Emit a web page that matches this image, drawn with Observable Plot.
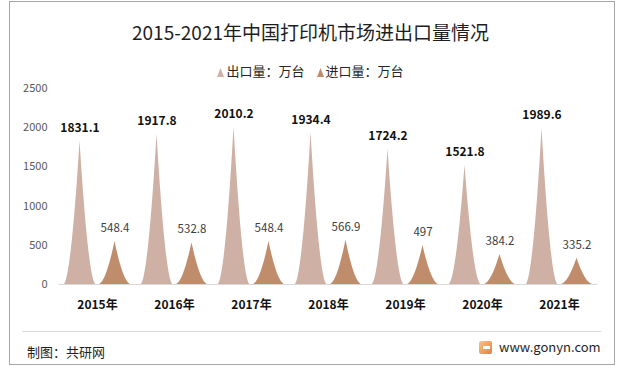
<!DOCTYPE html>
<html>
<head>
<meta charset="utf-8">
<script src="https://cdn.jsdelivr.net/npm/d3@7"></script>
<script src="https://cdn.jsdelivr.net/npm/@observablehq/plot@0.6"></script>
<style>
  html, body { margin: 0; padding: 0; background: #fff; }
  #wrap { position: relative; width: 621px; height: 372px; overflow: hidden; font-family: "Noto Sans CJK SC", "Noto Sans", sans-serif; }
  #frame { position: absolute; left: 9px; top: 1px; width: 606px; height: 364px; border: 1px solid #a6a6a6; box-sizing: border-box; }
  #title { position: absolute; left: 0; width: 621px; top: 18px; text-align: center; font-size: 19px; color: #1e1e1e; line-height: 28px; }
  #legend { position: absolute; left: 0; width: 621px; top: 62px; text-align: center; font-size: 13px; color: #262626; line-height: 18px; }
  #legend span.item { display: inline-block; margin: 0 6px; }
  #legend svg { vertical-align: -1px; margin-right: 2px; }
  #chart { position: absolute; left: 0; top: 80px; }
  #sep { position: absolute; left: 22px; width: 579px; top: 331px; border-top: 1px solid #d9d9d9; }
  #source { position: absolute; left: 27px; top: 343px; font-size: 13px; color: #1e1e1e; line-height: 18px; }
  #site { position: absolute; left: 479px; top: 339px; font-size: 13px; color: #262626; line-height: 16px; display: flex; align-items: center; }
  #site .logo { width: 13px; height: 13px; margin-right: 7px; background: linear-gradient(135deg, #f7c58e, #ec7a3a); border-radius: 2px; position: relative; }
  #site .logo::after { content: ""; position: absolute; left: 4px; top: 5px; width: 7px; height: 3px; background: #fff; }
</style>
</head>
<body>
<div id="wrap">
  <div id="frame"></div>
  <div id="title">2015-2021年中国打印机市场进出口量情况</div>
  <div id="legend"></div>
  <div id="chart"></div>
  <div id="sep"></div>
  <div id="source">制图：共研网</div>
  <div id="site"><span class="logo"></span>www.gonyn.com</div>
</div>
<script>
const years = ["2015年", "2016年", "2017年", "2018年", "2019年", "2020年", "2021年"];
const exportVals = [1831.1, 1917.8, 2010.2, 1934.4, 1724.2, 1521.8, 1989.6];
const importVals = [548.4, 532.8, 548.4, 566.9, 497, 384.2, 335.2];
const seriesNames = ["出口量：万台", "进口量：万台"];
const seriesColors = ["#cfb0a4", "#bf8d6b"];
const yTicks = [0, 500, 1000, 1500, 2000, 2500];

// legend
const legend = document.getElementById("legend");
seriesNames.forEach((name, j) => {
  const s = document.createElement("span");
  s.className = "item";
  s.innerHTML = `<svg width="7" height="9"><path d="M3.5 0 L7 9 L0 9 Z" fill="${seriesColors[j]}"/></svg>${name}`;
  legend.appendChild(s);
});

// spike geometry derived from the data values
const offset = 0.227, half = 0.208, power = 1.8, N = 30;
const spikes = [];
const labels = [];
[exportVals, importVals].forEach((vals, j) => {
  vals.forEach((v, i) => {
    const cx = i + (j === 0 ? -offset : offset);
    for (let k = -N; k <= N; k++) {
      const t = k / N;
      spikes.push({id: j + "-" + i, series: seriesNames[j], x: cx + t * half, y: v * Math.pow(1 - Math.abs(t), power)});
    }
    labels.push({x: cx, y: v, text: String(v), series: j});
  });
});

const chart = Plot.plot({
  width: 621,
  height: 240,
  marginLeft: 58.5,
  marginRight: 23.5,
  marginTop: 8,
  marginBottom: 36,
  style: {fontFamily: "'Noto Sans CJK SC', 'Noto Sans', sans-serif", background: "transparent"},
  x: {domain: [-0.5, 6.5], label: null},
  y: {domain: [0, 2500], label: null},
  color: {domain: seriesNames, range: seriesColors},
  marks: [
    Plot.areaY(spikes, {x: "x", y: "y", z: "id", fill: "series", curve: "linear"}),
    Plot.ruleY([0], {stroke: "#d9d9d9", strokeWidth: 1}),
    Plot.text(labels.filter(d => d.series === 0), {x: "x", y: "y", text: "text", dy: -13, fontWeight: "bold", fontSize: 12, fill: "#111"}),
    Plot.text(labels.filter(d => d.series === 1), {x: "x", y: "y", text: "text", dy: -13, fontSize: 11.5, fill: "#404040"}),
    Plot.axisX({ticks: d3.range(years.length), tickFormat: i => years[i], tickSize: 0, tickPadding: 16, fontSize: 12, fontWeight: "bold", color: "#111", label: null}),
    Plot.axisY({ticks: yTicks, tickFormat: d => String(d), tickSize: 0, tickPadding: 11.5, fontSize: 11, color: "#595959", label: null})
  ]
});
document.getElementById("chart").appendChild(chart);
</script>
</body>
</html>
